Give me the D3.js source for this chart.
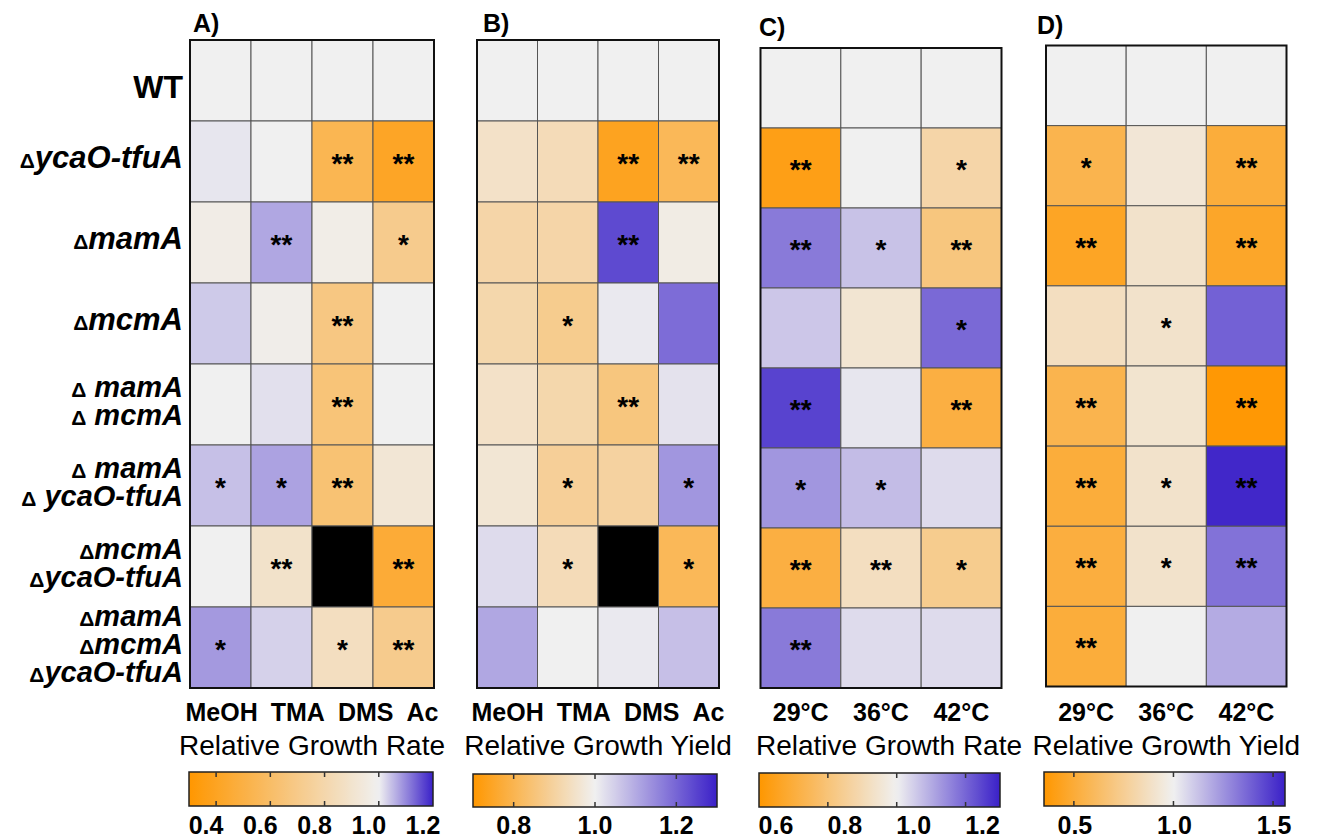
<!DOCTYPE html>
<html><head><meta charset="utf-8">
<script src="https://cdn.jsdelivr.net/npm/d3@7"></script>
<style>body{margin:0;background:#fff}text{font-family:"Liberation Sans",Arial,Helvetica,sans-serif}</style>
</head><body><svg id="c" width="1323" height="840"></svg>
<script>
// ---------------- DATA ----------------
const strains = ["WT","ΔycaO-tfuA","ΔmamA","ΔmcmA","Δ mamA|Δ mcmA","Δ mamA|Δ ycaO-tfuA","ΔmcmA|ΔycaO-tfuA","ΔmamA|ΔmcmA|ΔycaO-tfuA"];
const substrates = ["MeOH","TMA","DMS","Ac"];
const temperatures = ["29°C","36°C","42°C"];

const rateSubstrate = [
 [1.00,1.00,1.00,1.00],
 [1.01,1.00,0.54,0.41],
 [0.97,1.07,0.975,0.71],
 [1.037,0.98,0.68,1.00],
 [1.00,1.015,0.65,1.00],
 [1.046,1.075,0.635,0.92],
 [1.00,0.89,null,0.46],
 [1.084,1.03,0.86,0.71]
];
const sigRateSubstrate = [
 ["","","",""],["","","**","**"],["","**","","*"],["","","**",""],
 ["","","**",""],["*","*","**",""],["","**","","**"],["*","","*","**"]
];
const yieldSubstrate = [
 [1.00,1.00,1.00,1.00],
 [0.95,0.93,0.74,0.81],
 [0.91,0.91,1.24,0.985],
 [0.915,0.878,1.01,1.19],
 [0.95,0.915,0.857,1.02],
 [0.965,0.89,0.90,1.13],
 [1.03,0.93,null,0.81],
 [1.105,1.00,1.01,1.07]
];
const sigYieldSubstrate = [
 ["","","",""],["","","**","**"],["","","**",""],["","*","",""],
 ["","","**",""],["","*","","*"],["","*","","*"],["","","",""]
];
const rateTemp = [
 [1.00,1.00,1.00],
 [0.636,1.00,0.88],
 [1.17,1.066,0.81],
 [1.06,0.95,1.195],
 [1.25,1.015,0.71],
 [1.13,1.075,1.03],
 [0.71,0.92,0.836],
 [1.17,1.03,1.03]
];
const sigRateTemp = [
 ["","",""],["**","","*"],["**","*","**"],["","","*"],
 ["**","","**"],["*","*",""],["**","**","*"],["**","",""]
];
const yieldTemp = [
 [1.00,1.00,1.00],
 [0.56,0.93,0.51],
 [0.45,0.90,0.46],
 [0.87,0.90,1.385],
 [0.56,0.91,0.36],
 [0.51,0.90,1.54],
 [0.52,0.90,1.34],
 [0.51,1.00,1.185]
];
const sigYieldTemp = [
 ["","",""],["*","","**"],["**","","**"],["","*",""],
 ["**","","**"],["**","*","**"],["**","*","**"],["**","",""]
];
const titles = ["Relative Growth Rate","Relative Growth Yield","Relative Growth Rate","Relative Growth Yield"];
const panelLetters = ["A)","B)","C)","D)"];
const colorDomains = [[0.3,1.2],[0.7,1.3],[0.6,1.3],[0.35,1.56]];
const colorTicks = [[0.4,0.6,0.8,1.0,1.2],[0.8,1.0,1.2],[0.6,0.8,1.0,1.2],[0.5,1.0,1.5]];
const tickFormat = d3.format(".1f");

// ---------------- LAYOUT ----------------
const ORANGE = "#ff9700", MID = "#f0f0f0", PURPLE = "#3a20c8";
const panels = [
 {cols:substrates, vals:rateSubstrate, sig:sigRateSubstrate, x0:190, x1:434, y0:40, y1:688, lx:193, ly:32, bar:[189,433,772,806], shift:-10, flow:true},
 {cols:substrates, vals:yieldSubstrate, sig:sigYieldSubstrate, x0:477, x1:719, y0:40, y1:688, lx:483, ly:32, bar:[473,717,774,807], shift:0, flow:true},
 {cols:temperatures, vals:rateTemp, sig:sigRateTemp, x0:760.5, x1:1001.5, y0:48, y1:688, lx:759, ly:36, bar:[759,1000,773,807], shift:17, flow:false},
 {cols:temperatures, vals:yieldTemp, sig:sigYieldTemp, x0:1046, x1:1286.5, y0:45.5, y1:686.5, lx:1037, ly:34, bar:[1044,1285,772,806], shift:1, flow:false}
];

const svg = d3.select("#c");
const defs = svg.append("defs");

panels.forEach((p, pi) => {
  const g = svg.append("g");
  const x = d3.scaleBand().domain(p.cols).range([p.x0, p.x1]);
  const y = d3.scaleBand().domain(d3.range(strains.length)).range([p.y0, p.y1]);
  const [d0, d1] = colorDomains[pi];
  const color = d3.scaleLinear().domain([d0, 1, d1]).range([ORANGE, MID, PURPLE]).clamp(true);

  const cells = [];
  p.vals.forEach((row, ri) => row.forEach((v, ci) => cells.push({ri, ci, v, s: p.sig[ri][ci]})));
  g.selectAll("rect.cell").data(cells).join("rect")
    .attr("x", d => x(p.cols[d.ci])).attr("y", d => y(d.ri))
    .attr("width", x.bandwidth()).attr("height", y.bandwidth())
    .attr("fill", d => d.v == null ? "#000" : color(d.v))
    .attr("stroke", "#555").attr("stroke-width", 1);
  g.append("rect").attr("x", p.x0).attr("y", p.y0).attr("width", p.x1 - p.x0).attr("height", p.y1 - p.y0)
    .attr("fill", "none").attr("stroke", "#111").attr("stroke-width", 2);
  g.selectAll("text.sig").data(cells.filter(d => d.s)).join("text")
    .attr("x", d => x(p.cols[d.ci]) + x.bandwidth() / 2)
    .attr("y", d => y(d.ri) + y.bandwidth() / 2 + 11)
    .attr("text-anchor", "middle").attr("font-size", 28).attr("font-weight", "bold")
    .text(d => d.s);

  svg.append("text").attr("x", p.lx).attr("y", p.ly).attr("font-size", 25).attr("font-weight", "bold").text(panelLetters[pi]);

  const labG = svg.append("g");
  const labs = labG.selectAll("text").data(p.cols).join("text")
    .attr("y", 721).attr("font-size", 25).attr("font-weight", "bold").attr("text-anchor", "middle").text(d => d);
  if (p.flow) {
    const gap = 13;
    const widths = [];
    labs.each(function () { widths.push(this.getComputedTextLength()); });
    const total = d3.sum(widths) + gap * (widths.length - 1);
    let cur = (p.x0 + p.x1) / 2 - total / 2;
    labs.attr("x", (d, i) => { const c = cur + widths[i] / 2; cur += widths[i] + gap; return c; });
  } else {
    labs.attr("x", d => x(d) + x.bandwidth() / 2);
  }

  svg.append("text").attr("x", (p.x0 + p.x1) / 2 + (pi == 2 ? 8 : 0)).attr("y", 755)
    .attr("font-size", 28).attr("text-anchor", "middle").text(titles[pi]);

  const [bx0, bx1, by0, by1] = p.bar;
  const bs = d3.scaleLinear().domain([d0, d1]).range([bx0, bx1]);
  const gid = "grad" + pi;
  const grad = defs.append("linearGradient").attr("id", gid).attr("x1", "0%").attr("x2", "100%").attr("y1", "0%").attr("y2", "0%");
  d3.range(0, 1.0001, 0.02).forEach(t => {
    grad.append("stop").attr("offset", (t * 100) + "%").attr("stop-color", color(d0 + t * (d1 - d0)));
  });
  svg.append("rect").attr("x", bx0).attr("y", by0).attr("width", bx1 - bx0).attr("height", by1 - by0)
    .attr("fill", `url(#${gid})`).attr("stroke", "#222").attr("stroke-width", 1.5);
  const tk = colorTicks[pi];
  svg.append("g").selectAll("path").data(tk.filter(v => bs(v) > bx0 + 2 && bs(v) < bx1 - 2)).join("path")
    .attr("d", v => `M${bs(v)},${by0}v5M${bs(v)},${by1}v-5`).attr("stroke", "#333").attr("stroke-width", 1.5);
  svg.append("g").selectAll("text").data(tk).join("text")
    .attr("x", v => bs(v) + p.shift).attr("y", 834).attr("font-size", 25).attr("font-weight", "bold")
    .attr("text-anchor", "middle").text(v => tickFormat(v));
});

// row labels (left of panel A)
const yA = d3.scaleBand().domain(d3.range(strains.length)).range([panels[0].y0, panels[0].y1]);
strains.forEach((s, i) => {
  const cy = yA(i) + yA.bandwidth() / 2;
  if (s === "WT") {
    svg.append("text").attr("x", 183).attr("y", cy + 17).attr("text-anchor", "end")
      .attr("font-size", 32).attr("font-weight", "bold").text(s);
    return;
  }
  const lines = s.split("|");
  const n = lines.length;
  const fs = n > 1 ? 29 : 31, sp = 28;
  lines.forEach((ln, li) => {
    const t = svg.append("text").attr("x", 183).attr("y", cy + 6 + (li - (n - 1) / 2) * sp)
      .attr("text-anchor", "end").attr("font-weight", "bold").style("white-space", "pre");
    t.append("tspan").attr("font-size", 21).text("Δ");
    t.append("tspan").attr("font-size", fs).attr("font-style", "italic").text(ln.slice(1));
  });
});
</script></body></html>
